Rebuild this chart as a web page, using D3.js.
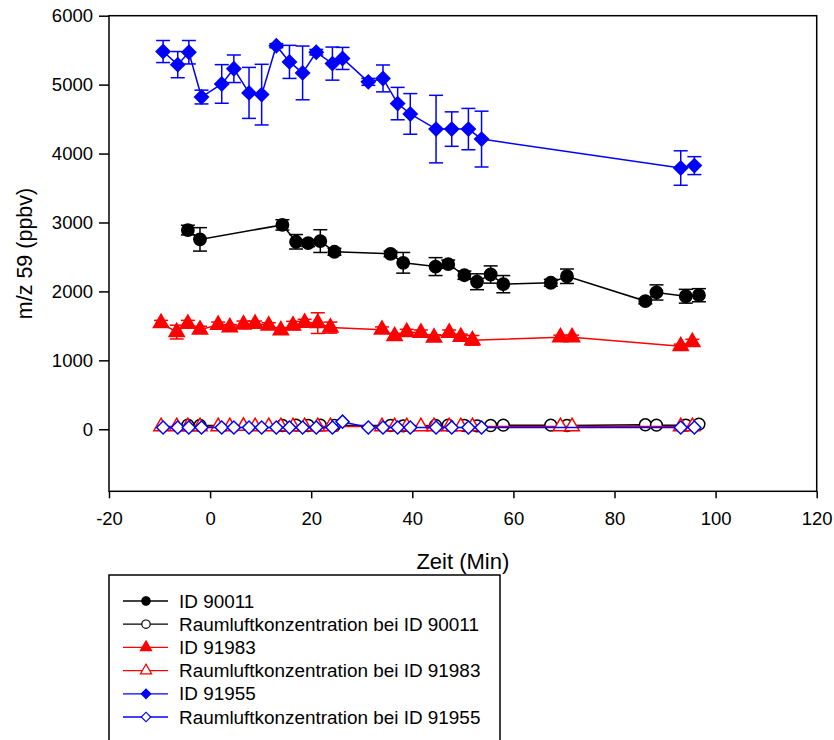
<!DOCTYPE html>
<html><head><meta charset="utf-8">
<script src="https://cdn.jsdelivr.net/npm/d3@7/dist/d3.min.js"></script>
<style>body{margin:0;background:#fff}svg{display:block;font-family:Arial,"Liberation Sans",sans-serif}</style>
</head><body>
<svg id="c" width="834" height="740"></svg>
<script>
// ---- data ----
const xTicks = [-20, 0, 20, 40, 60, 80, 100, 120];
const yTicks = [0, 1000, 2000, 3000, 4000, 5000, 6000];

const id90011X = [-4.4,-2.0,14.3,17.0,19.4,21.8,24.6,35.7,38.2,44.6,47.1,50.3,52.8,55.5,58.0,67.4,70.6,86.1,88.3,94.1,96.7];
const id90011Y = [2890,2755,2965,2720,2700,2730,2575,2545,2415,2360,2395,2235,2140,2245,2105,2125,2220,1860,1985,1930,1945];
const id90011E = [70,170,75,105,50,165,50,40,150,130,60,60,115,125,125,50,105,40,110,100,95];
const room90011Y = [60,55,55,60,55,60,55,55,50,55,60,55,50,55,60,60,55,65,60,60,75];

const id91983X = [-9.7,-6.6,-4.4,-2.0,1.6,3.9,6.6,8.9,11.6,14.0,16.4,18.7,21.3,23.8,34.0,36.5,38.9,41.7,44.3,47.3,49.6,51.9,69.3,71.6,93.1,95.4];
const id91983Y = [1540,1410,1530,1445,1515,1480,1520,1530,1505,1435,1505,1545,1540,1475,1445,1350,1410,1400,1330,1400,1340,1290,1335,1335,1205,1265];
const id91983E = [40,100,50,50,40,40,50,40,40,40,60,50,150,80,40,40,40,40,40,40,40,70,30,30,30,40];
const room91983Y = [40,40,40,40,40,40,45,40,40,40,40,40,40,40,40,40,40,40,40,40,40,40,40,40,40,40];

const id91955X = [-9.3,-6.4,-4.2,-1.7,2.3,4.7,7.7,10.2,13.1,15.7,18.3,21.0,24.2,26.2,31.3,34.2,37.1,39.6,44.7,47.8,51.1,53.7,93.1,95.8];
const id91955Y = [5480,5290,5470,4820,5010,5230,4880,4855,5565,5330,5170,5470,5305,5380,5040,5090,4725,4575,4355,4355,4355,4210,3790,3825];
const id91955E = [160,190,170,100,280,200,370,440,30,240,390,40,240,160,50,195,235,295,490,250,300,405,250,130];
const room91955Y = [25,25,25,25,25,25,25,25,25,25,25,25,25,110,25,25,25,25,25,25,25,25,25,25];

const legendLabels = ["ID 90011","Raumluftkonzentration bei ID 90011","ID 91983","Raumluftkonzentration bei ID 91983","ID 91955","Raumluftkonzentration bei ID 91955"];

// ---- layout ----
const svg = d3.select("#c");
const L = 109, R = 816.7, T = 15.7, B = 491.3;
const x = d3.scaleLinear().domain([-20, 120]).range([L, R]);
const y = d3.scaleLinear().domain([-900, 6000]).range([B, T]);

// frame
svg.append("rect").attr("x", L).attr("y", T).attr("width", R - L).attr("height", B - T)
  .attr("fill", "none").attr("stroke", "#000").attr("stroke-width", 1.5);

// axes
const fmt = d => String(d);
const xAxis = svg.append("g").attr("transform", `translate(0,${B})`)
  .call(d3.axisBottom(x).tickValues(xTicks).tickSize(7).tickPadding(14).tickFormat(fmt));
const yAxis = svg.append("g").attr("transform", `translate(${L},0)`)
  .call(d3.axisLeft(y).tickValues(yTicks).tickSize(10).tickPadding(6).tickFormat(fmt));
[xAxis, yAxis].forEach(g => {
  g.select(".domain").remove();
  g.selectAll("line").attr("stroke", "#000").attr("stroke-width", 1.5);
  g.selectAll("text").attr("font-size", 18.5).attr("fill", "#000").attr("font-family", "Arial, 'Liberation Sans', sans-serif");
});
xAxis.selectAll("text").attr("dy", "0.71em");

svg.append("text").attr("x", (L + R) / 2).attr("y", 569).attr("text-anchor", "middle")
  .attr("font-size", 22).text("Zeit (Min)");
svg.append("text").attr("transform", `translate(32,${(T + B) / 2}) rotate(-90)`).attr("text-anchor", "middle")
  .attr("font-size", 21.5).text("m/z 59 (ppbv)");

// symbols
const sym = {
  circle: d3.symbol().type(d3.symbolCircle),
  triangle: d3.symbol().type(d3.symbolTriangle),
  diamond: d3.symbol().type(d3.symbolSquare)
};
function marker(g, type, size, color, filled) {
  const p = g.append("path").attr("d", sym[type].size(size)())
    .attr("fill", filled ? color : "#fff").attr("stroke", color).attr("stroke-width", 1.5);
  if (type === "diamond") p.attr("transform", "rotate(45)");
  return p;
}

function series(xs, ys, es, color, type, size, filled) {
  const g = svg.append("g");
  const pts = xs.map((d, i) => ({ x: d, y: ys[i], e: es ? es[i] : 0 }));
  g.append("path").datum(pts)
    .attr("d", d3.line().x(d => x(d.x)).y(d => y(d.y)))
    .attr("fill", "none").attr("stroke", color).attr("stroke-width", 1.5);
  if (es) {
    const eb = g.selectAll(".eb").data(pts).enter().append("g");
    eb.append("line").attr("x1", d => x(d.x)).attr("x2", d => x(d.x))
      .attr("y1", d => y(d.y - d.e)).attr("y2", d => y(d.y + d.e)).attr("stroke", color).attr("stroke-width", 1.5);
    eb.append("line").attr("x1", d => x(d.x) - 7).attr("x2", d => x(d.x) + 7)
      .attr("y1", d => y(d.y + d.e)).attr("y2", d => y(d.y + d.e)).attr("stroke", color).attr("stroke-width", 1.5);
    eb.append("line").attr("x1", d => x(d.x) - 7).attr("x2", d => x(d.x) + 7)
      .attr("y1", d => y(d.y - d.e)).attr("y2", d => y(d.y - d.e)).attr("stroke", color).attr("stroke-width", 1.5);
  }
  pts.forEach(d => {
    const mg = g.append("g").attr("transform", `translate(${x(d.x)},${y(d.y)})`);
    marker(mg, type, size, color, filled);
  });
}

series(id90011X, id90011Y, id90011E, "#000", "circle", 120, true);
series(id91983X, id91983Y, id91983E, "#ff0000", "triangle", 100, true);
series(id91955X, id91955Y, id91955E, "#0000ff", "diamond", 95, true);
series(id90011X, room90011Y, null, "#000", "circle", 110, false);
series(id91983X, room91983Y, null, "#ff0000", "triangle", 90, false);
series(id91955X, room91955Y, null, "#0000ff", "diamond", 85, false);

// legend
const lg = svg.append("g");
lg.append("rect").attr("x", 109).attr("y", 575).attr("width", 391).attr("height", 200)
  .attr("fill", "#fff").attr("stroke", "#000").attr("stroke-width", 1.5);
const legendItems = [
  ["#000", "circle", true], ["#000", "circle", false],
  ["#ff0000", "triangle", true], ["#ff0000", "triangle", false],
  ["#0000ff", "diamond", true], ["#0000ff", "diamond", false]
];
legendLabels.forEach((lab, i) => {
  const yy = 601 + i * 23.2;
  const [c, t, f] = legendItems[i];
  lg.append("line").attr("x1", 123).attr("x2", 168).attr("y1", yy).attr("y2", yy).attr("stroke", c).attr("stroke-width", 1.3);
  const mg = lg.append("g").attr("transform", `translate(146,${yy})`);
  marker(mg, t, t === "diamond" ? 45 : 55, c, f).attr("stroke-width", 1.2);
  lg.append("text").attr("x", 179).attr("y", yy + 6.5).attr("font-size", 18.9).attr("fill", "#000").text(lab);
});
</script>
</body></html>
